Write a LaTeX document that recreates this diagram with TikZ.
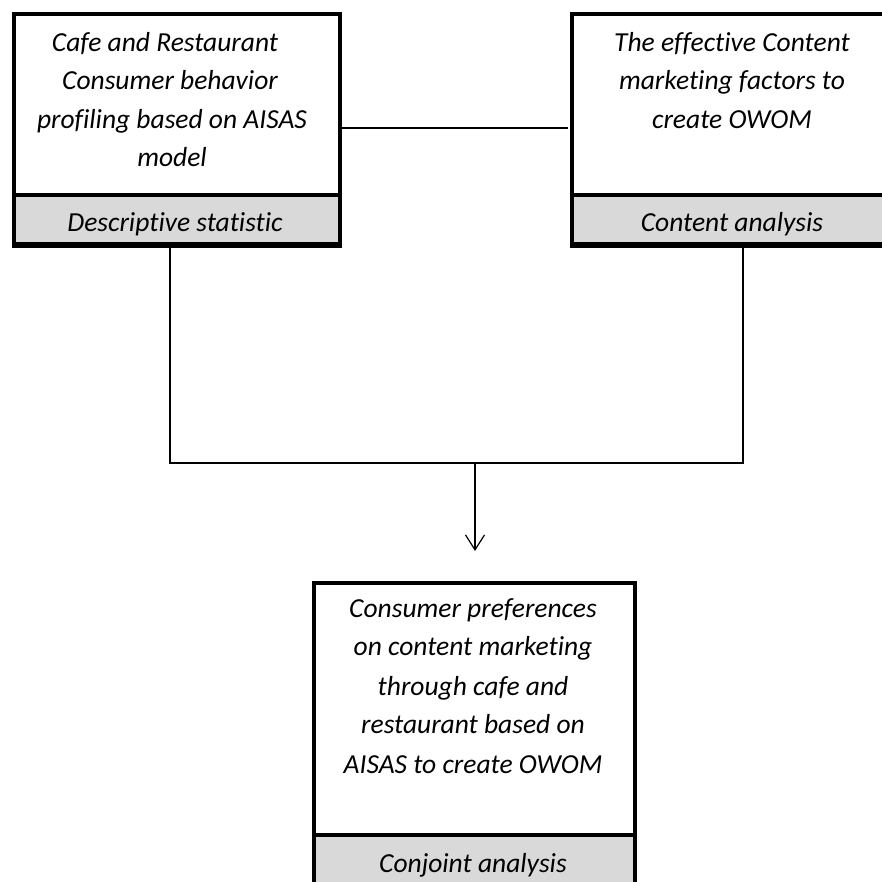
\documentclass[tikz,border=0pt]{standalone}
\usepackage{fontspec}
\setmainfont{Carlito}[Ligatures=NoCommon]
\usetikzlibrary{arrows.meta}
\definecolor{bargray}{RGB}{217,217,217}
\begin{document}
\begin{tikzpicture}[x=1pt,y=1pt,
  boxtop/.style={draw=black,line width=4pt,fill=white,inner sep=0pt,anchor=north west},
  boxbar/.style={draw=black,line width=4pt,fill=bargray,inner sep=0pt,anchor=north west},
  txt/.style={font=\fontsize{27.5}{38}\selectfont\itshape,align=center,inner sep=0pt},
  conn/.style={draw=black,line width=1.2pt},
]
\useasboundingbox (0,0) rectangle (882,-881);
\begin{scope}
\clip (0,0) rectangle (882,-881);
% left box
\node[boxtop,minimum width=326pt,minimum height=181pt] (L) at (12,-12) {};
\node[boxbar,minimum width=326pt,minimum height=49pt] (Lg) at (12,-193) {};
% right box
\node[boxtop,minimum width=326pt,minimum height=181pt] (R) at (570,-12) {};
\node[boxbar,minimum width=326pt,minimum height=49pt] (Rg) at (570,-193) {};
% bottom box
\node[boxtop,minimum width=321pt,minimum height=252pt] (B) at (312,-581) {};
\node[boxbar,minimum width=321pt,minimum height=80pt] (Bg) at (312,-833) {};

% texts
\node[txt,anchor=base] (Lt1) at (165,-51) {Cafe and Restaurant};
\node[txt,anchor=base] (Lt2) at (170,-89) {Consumer behavior};
\node[txt,anchor=base] (Lt3) at (172,-128) {profiling based on AISAS};
\node[txt,anchor=base] (Lt4) at (172,-166) {model};
\node[txt,anchor=base] (Lgt) at (175,-231) {Descriptive statistic};

\node[txt,anchor=base] (Rt1) at (732,-51) {The effective Content};
\node[txt,anchor=base] (Rt2) at (732,-89) {marketing factors to};
\node[txt,anchor=base] (Rt3) at (732,-128) {create OWOM};
\node[txt,anchor=base] (Rgt) at (732,-231) {Content analysis};

\node[txt,anchor=base] (Bt1) at (473,-617) {Consumer preferences};
\node[txt,anchor=base] (Bt2) at (473,-655) {on content marketing};
\node[txt,anchor=base] (Bt3) at (473,-695) {through cafe and};
\node[txt,anchor=base] (Bt4) at (473,-733) {restaurant based on};
\node[txt,anchor=base] (Bt5) at (473,-773) {AISAS to create OWOM};
\node[txt,anchor=base] (Bgt) at (473,-872) {Conjoint analysis};

% redraw borders on top of clipped text
\draw[line width=4pt] (Lg.south west) -- (Lg.south east);
\draw[line width=4pt] (Rg.south west) -- (Rg.south east);

% connectors
\coordinate (LA) at (340,-128);
\coordinate (RA) at (568,-128);
\draw[conn] (LA) -- (RA);
\coordinate (Ld) at (170,-245);
\coordinate (Rd) at (743,-245);
\coordinate (J) at (475,-463);
\draw[conn] (Ld) |- (J) -| (Rd);
\coordinate (Ar) at (475,-551);
\draw[conn,-{Straight Barb[length=15pt,width=19pt,line width=1.2pt]}] (J) -- (Ar);
\end{scope}
\end{tikzpicture}
\end{document}
